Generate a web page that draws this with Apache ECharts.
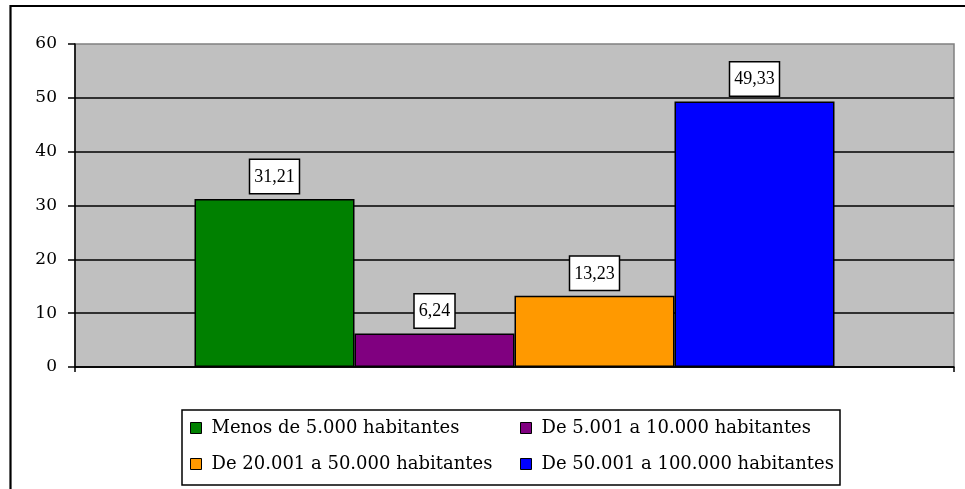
<!DOCTYPE html>
<html>
<head>
<meta charset="utf-8">
<script src="https://cdn.jsdelivr.net/npm/echarts@6/dist/echarts.min.js"></script>
<style>
  html, body { margin: 0; padding: 0; background: #ffffff; }
  #chart { width: 965px; height: 489px; }
</style>
</head>
<body>
<div id="chart"></div>
<script>
// Population-size groups and their shares
const seriesNames = [
  'Menos de 5.000 habitantes',
  'De 5.001 a 10.000 habitantes',
  'De 20.001 a 50.000 habitantes',
  'De 50.001 a 100.000 habitantes'
];
const seriesValues = [31.21, 6.24, 13.23, 49.33];
const seriesColors = ['#008000', '#800080', '#FF9900', '#0000FF'];
const categories = [''];
const yTicks = { min: 0, max: 60, interval: 10 };

const chart = echarts.init(document.getElementById('chart'), null, { renderer: 'canvas' });

const fmtComma = v => v.toFixed(2).replace('.', ',');

const series = seriesNames.map((name, i) => ({
  name: name,
  type: 'bar',
  data: [seriesValues[i]],
  barWidth: 160,
  barGap: '0%',
  itemStyle: { color: seriesColors[i], borderColor: '#000', borderWidth: 1.5 },
  label: {
    show: true,
    position: 'top',
    distance: 6,
    formatter: p => fmtComma(p.value),
    fontFamily: '"Liberation Serif", "Times New Roman", serif',
    fontSize: 18,
    color: '#000',
    lineHeight: 18,
    backgroundColor: '#fff',
    borderColor: '#000',
    borderWidth: 1.5,
    padding: [8, 4, 7, 4]
  },
  emphasis: { disabled: true }
}));

// legend entries laid out as a 2 x 2 block
const legendPos = [
  { left: 190, top: 418 },
  { left: 520, top: 418 },
  { left: 190, top: 454 },
  { left: 520, top: 454 }
];
const legends = seriesNames.map((name, i) => ({
  data: [name],
  left: legendPos[i].left,
  top: legendPos[i].top,
  padding: 0,
  icon: 'rect',
  itemWidth: 11,
  itemHeight: 11,
  itemStyle: { borderColor: '#000', borderWidth: 1 },
  selectedMode: false,
  textStyle: {
    fontFamily: '"DejaVu Serif", serif',
    fontSize: 18,
    color: '#000',
    lineHeight: 20,
    padding: [0, 0, 0, 5]
  }
}));

chart.setOption({
  animation: false,
  backgroundColor: '#ffffff',
  grid: {
    left: 75, top: 44, right: 11, bottom: 122,
    show: true,
    backgroundColor: '#C0C0C0',
    borderColor: '#808080',
    borderWidth: 1.5
  },
  legend: legends,
  xAxis: {
    type: 'category',
    data: categories,
    axisLine: { lineStyle: { color: '#000', width: 1.5 } },
    axisTick: { show: true, length: 5, lineStyle: { color: '#000', width: 1.5 } },
    axisLabel: { show: false }
  },
  yAxis: {
    type: 'value',
    min: yTicks.min,
    max: yTicks.max,
    interval: yTicks.interval,
    axisLine: { show: true, lineStyle: { color: '#000', width: 1.5 } },
    axisTick: { show: true, length: 7, lineStyle: { color: '#000', width: 1.5 } },
    axisLabel: {
      margin: 18,
      fontFamily: '"DejaVu Serif", serif',
      fontSize: 17,
      color: '#000'
    },
    splitLine: { show: true, showMaxLine: false, lineStyle: { color: '#000', width: 1.5 } }
  },
  graphic: [
    {
      type: 'rect',
      z: -1,
      silent: true,
      shape: { x: 10.5, y: 6, width: 1000, height: 600 },
      style: { fill: null, stroke: '#000', lineWidth: 2.2 }
    },
    {
      type: 'rect',
      z: -1,
      silent: true,
      shape: { x: 182, y: 410, width: 658, height: 75 },
      style: { fill: null, stroke: '#000', lineWidth: 1.5 }
    }
  ],
  series: series
});
</script>
</body>
</html>
